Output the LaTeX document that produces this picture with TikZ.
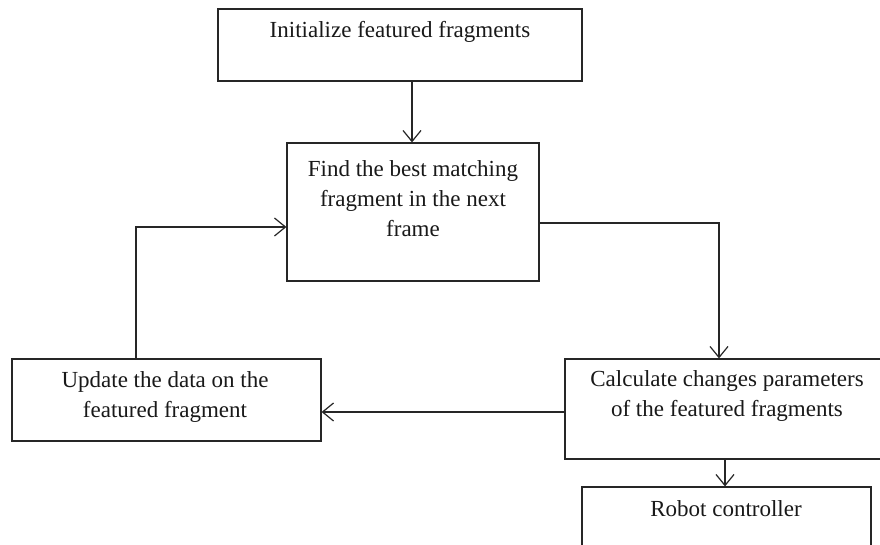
\documentclass[tikz,border=0pt]{standalone}
\usepackage{fontspec}
\setmainfont{Liberation Serif}
\usetikzlibrary{arrows.meta}
\begin{document}
\begin{tikzpicture}[x=1pt,y=-1pt,
  box/.style={draw=black!85, line width=1.2pt, minimum width=#1, inner sep=0pt},
  lbl/.style={align=center, font=\fontsize{23}{30}\selectfont, inner sep=0pt, text=black!90},
  conn/.style={draw=black!85, line width=1.2pt, -{Straight Barb[length=11pt,width=18pt,line width=1.2pt]}}
]
\useasboundingbox (0,0) rectangle (880,545);
\clip (0,0) rectangle (880,545);
\fill[white] (0,0) rectangle (880,545);
% boxes
\node[box=364pt, minimum height=72pt] (b1) at (400,45) {};
\node[box=252pt, minimum height=138pt] (b2) at (413,212) {};
\node[box=309pt, minimum height=82pt] (b3) at (166.5,400) {};
\node[box=330pt, minimum height=100pt] (b4) at (730,409) {};
\node[box=289pt, minimum height=73pt] (b5) at (726.5,523.5) {};
% texts
\node[lbl] (t1) at (400,32) {Initialize featured fragments};
\node[lbl] (t2) at (413,199) {Find the best matching\\fragment in the next\\frame};
\node[lbl] (t3) at (165,397) {Update the data on the\\featured fragment};
\node[lbl] (t4) at (727,396) {Calculate changes parameters\\of the featured fragments};
\node[lbl] (t5) at (726,509) {Robot controller};
% connectors
\coordinate (c1) at (719,223);
\coordinate (c2) at (136,227);
\draw[conn] (b1.south -| 412,0) -- (b2.north -| 412,0);
\draw[conn] (b2.east |- 0,223) -- (c1) -- (c1 |- b4.north);
\draw[conn] (b4.west |- 0,412) -- (b3.east |- 0,412);
\draw[conn] (b3.north -| c2) -- (c2) -- (c2 -| b2.west);
\draw[conn] (b4.south -| 725,0) -- (b5.north -| 725,0);
\end{tikzpicture}
\end{document}
